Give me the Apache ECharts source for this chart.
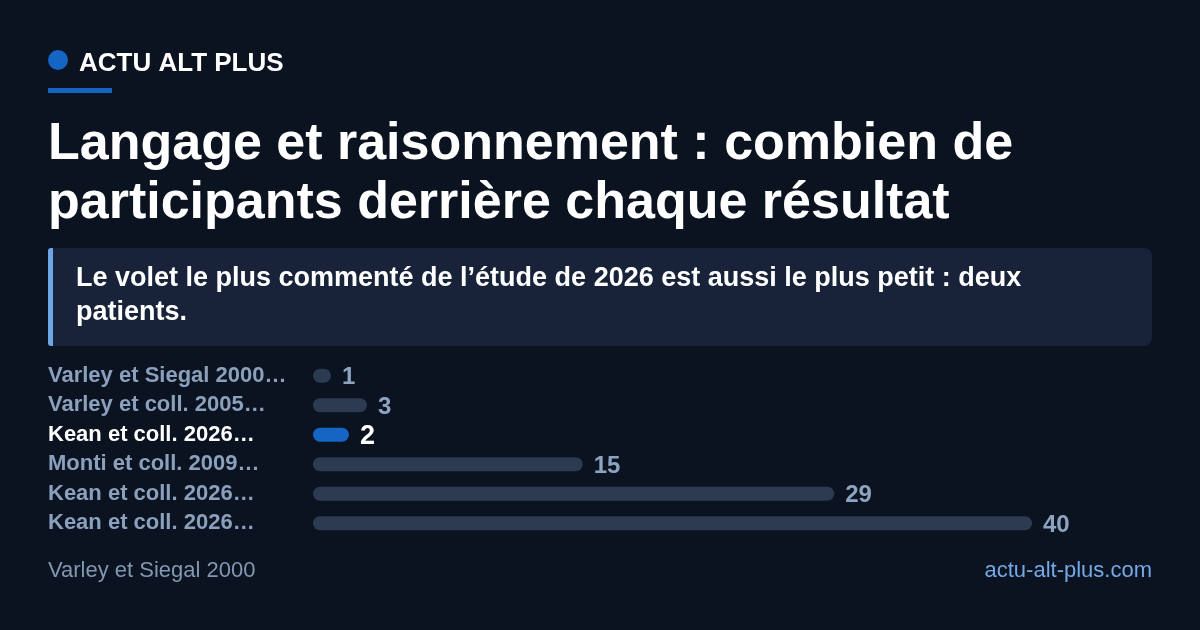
<!DOCTYPE html>
<html>
<head>
<meta charset="utf-8">
<script src="https://cdn.jsdelivr.net/npm/echarts@6/dist/echarts.min.js"></script>
<style>
html,body{margin:0;padding:0;background:#0b1220;}
#c{width:1200px;height:630px;}
</style>
</head>
<body>
<div id="c"></div>
<script>
const categories = [
  "Varley et Siegal 2000…",
  "Varley et coll. 2005…",
  "Kean et coll. 2026…",
  "Monti et coll. 2009…",
  "Kean et coll. 2026…",
  "Kean et coll. 2026…"
];
const values = [1, 3, 2, 15, 29, 40];
const highlightIndex = 2;
const xMax = 40;

const FONT = '"Liberation Sans", Arial, Helvetica, sans-serif';
const chart = echarts.init(document.getElementById('c'), null, {renderer: 'canvas'});

const data = values.map((v, i) => {
  const hi = i === highlightIndex;
  return {
    value: v,
    itemStyle: {color: hi ? '#1565c4' : '#2c3a52'},
    label: hi ? {fontSize: 27, color: '#ffffff'} : {}
  };
});

chart.setOption({
  backgroundColor: '#0b1220',
  animation: false,
  grid: {left: 313, top: 361, width: 719, height: 177, containLabel: false},
  xAxis: {
    type: 'value', min: 0, max: xMax,
    show: false
  },
  yAxis: {
    type: 'category', data: categories, inverse: true,
    axisLine: {show: false}, axisTick: {show: false}, splitLine: {show: false},
    axisLabel: {
      align: 'left', margin: 265,
      fontFamily: FONT, fontWeight: 'bold', fontSize: 22,
      formatter: (val, idx) => idx === highlightIndex ? '{hi|' + val + '}' : '{n|' + val + '}',
      rich: {
        n: {color: '#8aa0bc', fontFamily: FONT, fontWeight: 'bold', fontSize: 22},
        hi: {color: '#ffffff', fontFamily: FONT, fontWeight: 'bold', fontSize: 22}
      }
    }
  },
  series: [{
    type: 'bar',
    data: data,
    barWidth: 14,
    itemStyle: {borderRadius: 7},
    label: {
      show: true, position: 'right', distance: 11, offset: [0, 2],
      fontFamily: FONT, fontWeight: 'bold', fontSize: 24, color: '#8da4c0'
    }
  }],
  graphic: [
    {type: 'circle', shape: {cx: 58, cy: 60, r: 10}, style: {fill: '#1565c4'}},
    {type: 'text', x: 79, y: 64, style: {text: 'ACTU ALT PLUS', fill: '#ffffff', font: 'bold 26px ' + FONT, textVerticalAlign: 'middle'}},
    {type: 'rect', shape: {x: 48, y: 88, width: 64, height: 5}, style: {fill: '#1565c4'}},
    {type: 'text', x: 48, y: 115, style: {
      text: 'Langage et raisonnement : combien de\nparticipants derrière chaque résultat',
      fill: '#ffffff', font: 'bold 52px ' + FONT, lineHeight: 59, textVerticalAlign: 'top'}},
    {type: 'rect', shape: {x: 48, y: 248, width: 1104, height: 98, r: 8}, style: {fill: '#18233a'}},
    {type: 'rect', shape: {x: 48, y: 248, width: 5, height: 98, r: [3, 0, 0, 3]}, style: {fill: '#6ea6e6'}},
    {type: 'text', x: 76, y: 262, style: {
      text: 'Le volet le plus commenté de l’étude de 2026 est aussi le plus petit : deux\npatients.',
      fill: '#ffffff', font: 'bold 27px ' + FONT, lineHeight: 34, textVerticalAlign: 'top'}},
    {type: 'text', x: 48, y: 571, style: {text: 'Varley et Siegal 2000', fill: '#8297b2', font: '22px ' + FONT, textVerticalAlign: 'middle'}},
    {type: 'text', x: 1152, y: 571, style: {text: 'actu-alt-plus.com', fill: '#74a9e6', font: '22px ' + FONT, textAlign: 'right', textVerticalAlign: 'middle'}}
  ]
});
</script>
</body>
</html>
